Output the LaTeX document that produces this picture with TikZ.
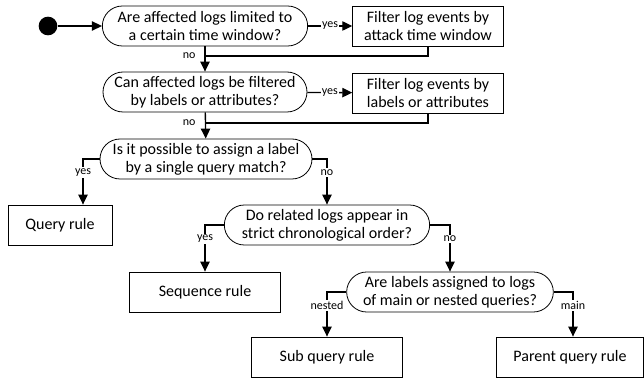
\documentclass[tikz,border=0pt]{standalone}
\usepackage{fontspec}
\setmainfont{Carlito}
\usetikzlibrary{arrows.meta,calc}

\begin{document}
\begin{tikzpicture}[x=0.75pt,y=-0.75pt,
        decision/.style={draw, line width=0.6pt, rounded corners=15pt, minimum height=30pt,
            inner sep=0pt, align=center, font=\fontsize{12}{13.5}\selectfont},
        action/.style={draw, line width=0.6pt, minimum height=30pt, inner sep=0pt,
            align=center, font=\fontsize{12}{13.5}\selectfont},
        startnode/.style={circle, fill=black, minimum size=14pt, inner sep=0pt},
        flow/.style={line width=1pt, -{Triangle[length=7.5pt,width=7pt]}},
        link/.style={line width=1pt},
        lbl/.style={fill=white, inner sep=1pt, font=\fontsize{9}{10}\selectfont}]

        \useasboundingbox (0,0) rectangle (644,381);

        % Start
        \node[startnode] (start) at (48,26) {};

        % Filtering steps
        \node[decision, minimum width=154pt] (timeq) at (205,26) {Are affected logs limited to\\a certain time window?};
        \node[action, minimum width=113pt] (timef) at (428,26) {Filter log events by\\attack time window};
        \node[decision, minimum width=153pt] (attrq) at (205,92) {Can affected logs be filtered\\by labels or attributes?};
        \node[action, minimum width=113pt] (attrf) at (428,93) {Filter log events by\\labels or attributes};

        % Rule type decisions
        \node[decision, minimum width=159pt] (singleq) at (206,159) {Is it possible to assign a label\\by a single query match?};
        \node[action, minimum width=78pt] (queryr) at (60,225) {Query rule};
        \node[decision, minimum width=154pt] (orderq) at (327,225) {Do related logs appear in\\strict chronological order?};
        \node[action, minimum width=113pt] (seqr) at (205,292) {Sequence rule};
        \node[decision, minimum width=155pt] (nestq) at (450,292) {Are labels assigned to logs\\of main or nested queries?};
        \node[action, minimum width=113pt] (subr) at (327,357) {Sub query rule};
        \node[action, minimum width=110pt] (parentr) at (570,357) {Parent query rule};

        % Joins
        \coordinate (join1) at (205,56);
        \coordinate (join2) at (205,123);

        % Connectors
        \draw[flow] (start) -- (timeq);
        \draw[flow] (timeq) -- node[lbl] (yes1) {yes} (timef);
        \draw[flow] (timeq) -- (attrq);
        \draw[link] (timef.south) |- (join1);
        \node[lbl, fill=none, anchor=east, xshift=-6pt] (no1) at (join1) {no};

        \draw[flow] (attrq) -- node[lbl] (yes2) {yes} (attrf);
        \draw[flow] (attrq) -- (singleq);
        \draw[link] (attrf.south) |- (join2);
        \node[lbl, fill=none, anchor=east, xshift=-6pt] (no2) at (join2) {no};

        \draw[flow] (singleq.west) -| node[lbl, pos=0.65] (yes3) {yes} ($(queryr.north)+(23,0)$);
        \draw[flow] (singleq.east) -| node[lbl, pos=0.65] (no3) {no} (orderq.north);
        \draw[flow] (orderq.west) -| node[lbl, pos=0.65] (yes4) {yes} (seqr.north);
        \draw[flow] (orderq.east) -| node[lbl, pos=0.65] (no4) {no} (nestq.north);
        \draw[flow] (nestq.west) -| node[lbl, pos=0.65] (nested) {nested} (subr.north);
        \draw[flow] (nestq.east) -| node[lbl, pos=0.65] (main) {main} ($(parentr.north)+(3,0)$);
\end{tikzpicture}
\end{document}
